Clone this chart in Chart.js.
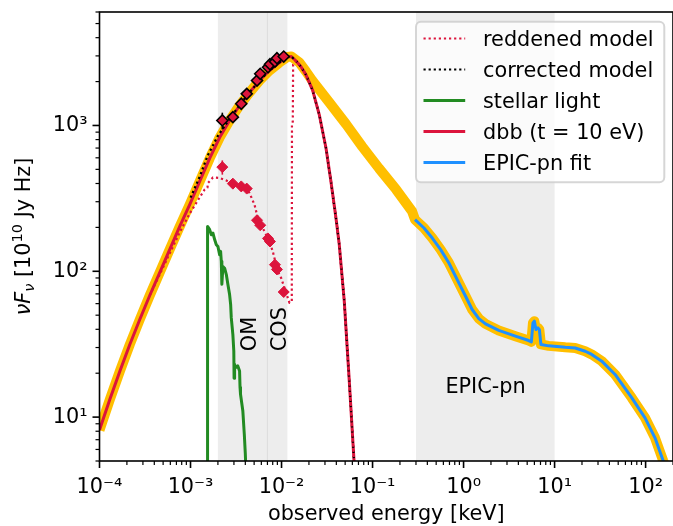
<!doctype html>
<html lang="en">
<head>
  <meta charset="UTF-8">
  <title>SED</title>
  <script src="https://cdn.jsdelivr.net/npm/chart.js@4.4.1/dist/chart.umd.min.js"></script>
  <style>
    body { margin: 0; background: #fff; }
    canvas { display: block; }
  </style>
</head>
<body>
  <canvas id="canvas" width="673" height="526"></canvas>
  <script>
    // energies in keV, fluxes in 1e10 Jy Hz
    var dbbE = [1.0e-4, 1.303e-4, 1.677e-4, 2.158e-4, 2.777e-4, 3.573e-4, 4.599e-4, 5.918e-4, 7.615e-4, 9.799e-4,
                1.261e-3, 1.623e-3, 2.089e-3, 2.688e-3, 3.459e-3, 4.451e-3, 5.728e-3, 7.370e-3, 9.485e-3, 1.161e-2,
                1.282e-2, 1.445e-2, 1.631e-2, 1.858e-2, 2.198e-2, 2.600e-2, 3.079e-2, 3.490e-2, 3.963e-2, 4.306e-2,
                4.889e-2, 5.550e-2, 6.280e-2, 6.780e-2];
    var dbbF = [8.15, 13.3, 20.7, 31.6, 46.9, 68.5, 98.4, 141.5, 203, 287,
                413, 594, 827, 1082, 1370, 1682, 2032, 2381, 2702, 2951,
                2972, 2767, 2535, 2223, 1740, 1183, 700, 413, 232, 153,
                62.4, 17.7, 4.84, 2.27];

    var corrModelE = [1.0e-3, 1.261e-3, 1.539e-3, 2.0e-3, 2.688e-3, 3.459e-3, 4.451e-3, 5.728e-3, 7.370e-3, 9.485e-3,
                      1.161e-2, 1.282e-2, 1.445e-2, 1.631e-2, 1.858e-2, 2.198e-2, 2.600e-2, 3.079e-2, 3.490e-2, 3.963e-2,
                      4.306e-2, 4.889e-2, 5.550e-2, 6.280e-2, 6.780e-2];
    var corrModelF = [320, 445, 620, 850, 1110, 1380, 1682, 2032, 2381, 2702,
                      2951, 2972, 2767, 2535, 2223, 1740, 1183, 700, 413, 232,
                      153, 62.4, 17.7, 4.84, 2.27];

    var redModelE = [3.573e-4, 4.599e-4, 5.918e-4, 7.615e-4, 9.799e-4, 1.261e-3, 1.430e-3, 1.535e-3, 1.556e-3, 1.763e-3,
                     2.089e-3, 2.470e-3, 3.050e-3, 3.930e-3, 4.450e-3, 5.050e-3, 5.490e-3, 6.220e-3, 7.370e-3, 8.010e-3,
                     9.090e-3, 9.900e-3, 1.077e-2, 1.222e-2, 1.296e-2, 1.302e-2, 1.330e-2, 1.340e-2, 1.445e-2, 1.631e-2,
                     1.858e-2, 2.198e-2, 2.600e-2, 3.079e-2, 3.490e-2, 3.963e-2, 4.306e-2, 4.889e-2, 5.550e-2, 6.280e-2, 6.780e-2];
    var redModelF = [68.5, 95.3, 133, 185, 249, 321, 364, 375, 403, 440,
                     436, 420, 393, 373, 344, 286, 232, 198, 160, 137,
                     100, 90, 76.9, 60.7, 62.4, 1033, 1065, 2618, 2767, 2535,
                     2223, 1740, 1183, 700, 413, 232, 153, 62.4, 17.7, 4.84, 2.27];

    var starE = [1.539e-3, 1.539e-3, 1.623e-3, 1.693e-3, 1.764e-3, 1.841e-3, 1.921e-3, 2.000e-3, 2.088e-3, 2.141e-3,
                 2.179e-3, 2.210e-3, 2.270e-3, 2.370e-3, 2.474e-3, 2.575e-3, 2.688e-3, 2.760e-3, 2.805e-3, 2.920e-3,
                 2.990e-3, 3.010e-3, 3.050e-3, 3.126e-3, 3.300e-3, 3.459e-3, 3.500e-3, 3.540e-3, 3.758e-3, 3.900e-3,
                 4.000e-3, 4.120e-3];
    var starF = [1, 203, 193, 178, 183, 165, 152, 148, 130, 137,
                 117, 81.5, 108, 105, 94.9, 81.1, 69.2, 59.2, 47.9, 36.8,
                 28.3, 18.5, 23, 21.8, 22.5, 20.7, 16, 14.4, 11.0, 7.6,
                 5.6, 3.5];

    var fitE = [0.2928, 0.3674, 0.4530, 0.5600, 0.6902, 0.851, 1.052, 1.242, 1.471, 1.742,
                2.435, 3.711, 5.190, 5.557, 5.785, 5.993, 6.241, 6.563, 6.799, 7.078,
                8.60, 13.1, 16.85, 21.7, 25.6, 33.0, 46.2, 70.3, 98.5, 126.8, 156.3, 200];
    var fitF = [226, 198, 169, 140.8, 114, 87.7, 67.4, 54.7, 47.4, 43.6,
                39.3, 35.9, 33.5, 32.8, 44.3, 45.5, 39.9, 40.9, 39.9, 31.5,
                30.8, 30.1, 29.8, 28.3, 26.9, 24.2, 19.6, 13.6, 9.89, 7.21, 5.0, 3.6];

    // total model between the dbb peak and the EPIC-pn range
    var totTailE = [1.570e-2, 1.858e-2, 2.178e-2, 3.346e-2, 5.137e-2, 7.69e-2, 0.1181, 0.1814, 0.2715];
    var totTailF = [2702, 2344, 2032, 1439, 1017, 718, 507, 364, 258];

    // OM / COS photometry
    var uvE = [2.236e-3, 2.920e-3, 3.610e-3, 4.146e-3, 5.377e-3, 5.829e-3, 7.096e-3, 7.464e-3, 8.467e-3, 8.903e-3, 1.057e-2];
    var uvCorrF = [1082, 1140, 1409, 1648, 2033, 2261, 2508, 2630, 2743, 2891, 2970];
    var uvCorrErr = [142, 30, 30, 35, 40, 40, 45, 45, 45, 50, 50];
    var uvRedF = [518, 399, 382, 369, 224, 207, 168, 160, 111, 103, 72.1];
    var uvRedErr = [58, 10, 10, 10, 6, 6, 5, 5, 3, 3, 2];

    var omBand = [2.0e-3, 7.1e-3];
    var cosBand = [6.9e-3, 1.16e-2];
    var epicBand = [0.3, 10];

    var xLim = [1e-4, 200];
    var yLim = [5, 6000];

    const CRIMSON = '#DC143C', GREEN = '#228B22', BLUE = '#1E90FF', GOLD = '#FFBF00';
    const FONT = '"DejaVu Sans", sans-serif';
    const FS = 20.8;
    const DOTS = [2.2, 2.9];

    const SUP = {'-': '\u207B', '0': '\u2070', '1': '\u00B9', '2': '\u00B2', '3': '\u00B3', '4': '\u2074',
                 '5': '\u2075', '6': '\u2076', '7': '\u2077', '8': '\u2078', '9': '\u2079'};
    const decadeLabel = v => {
      const l = Math.log10(v), r = Math.round(l);
      if (Math.abs(l - r) > 1e-6) return '';
      return '10' + String(r).split('').map(c => SUP[c]).join('');
    };

    const pts = (xs, ys) => xs.map((x, i) => ({x: x, y: ys[i]}));

    const curve = (label, xs, ys, color, width, dash, order) => ({
      label: label, data: pts(xs, ys), borderColor: color, backgroundColor: color,
      borderWidth: width, borderDash: dash, borderJoinStyle: 'round',
      pointRadius: 0, pointHoverRadius: 0, tension: 0, clip: 0, order: order
    });

    const totE = dbbE.slice(0, 21).concat(totTailE, fitE);
    const totF = dbbF.slice(0, 21).concat(totTailF, fitF);

    const datasets = [
      curve('total', totE, totF, GOLD, 10, [], 10),
      Object.assign(curve('dbb (t = 10 eV)', dbbE, dbbF, CRIMSON, 3, [], 9), {legendRow: 3}),
      Object.assign(curve('stellar light', starE, starF, GREEN, 3, [], 8), {legendRow: 2}),
      Object.assign(curve('EPIC-pn fit', fitE, fitF, BLUE, 3, [], 7), {legendRow: 4}),
      Object.assign(curve('corrected model', corrModelE, corrModelF, '#000', 2.2, DOTS, 6), {legendRow: 1}),
      Object.assign(curve('reddened model', redModelE, redModelF, CRIMSON, 2.2, DOTS, 5), {legendRow: 0}),
      {
        label: 'reddened data', data: pts(uvE, uvRedF), showLine: false, pointStyle: 'rectRot',
        pointRadius: 5.5, backgroundColor: CRIMSON, borderColor: CRIMSON, borderWidth: 1,
        clip: false, order: 2, errY: uvRedErr, errColor: CRIMSON
      },
      {
        label: 'corrected data', data: pts(uvE, uvCorrF), showLine: false, pointStyle: 'rectRot',
        pointRadius: 5.5, backgroundColor: CRIMSON, borderColor: '#000', borderWidth: 1.6,
        clip: false, order: 1, errY: uvCorrErr, errColor: '#000'
      }
    ];

    function logTicks(scale) {
      const out = [];
      for (let d = Math.floor(Math.log10(scale.min)); d <= Math.ceil(Math.log10(scale.max)); d++) {
        for (let k = 1; k <= 9; k++) {
          const v = k * Math.pow(10, d);
          if (v >= scale.min * 0.999 && v <= scale.max * 1.001) out.push({v: v, major: k === 1});
        }
      }
      return out;
    }

    function richText(ctx, parts, cx, cy, rot) {
      ctx.save();
      ctx.translate(cx, cy);
      ctx.rotate(rot);
      ctx.textAlign = 'left';
      ctx.textBaseline = 'alphabetic';
      const fontFor = p => (p.i ? 'oblique ' : '') + (FS * (p.s || 1)) + 'px ' + FONT;
      let w = 0;
      parts.forEach(p => { ctx.font = fontFor(p); w += ctx.measureText(p.t).width; });
      let xx = -w / 2;
      parts.forEach(p => {
        ctx.font = fontFor(p);
        ctx.fillText(p.t, xx, p.dy || 0);
        xx += ctx.measureText(p.t).width;
      });
      ctx.restore();
    }

    const decor = {
      id: 'decor',
      beforeDatasetsDraw(chart) {
        const {ctx, chartArea: a, scales: {x}} = chart;
        ctx.save();
        ctx.fillStyle = 'rgba(128,128,128,0.14)';
        [omBand, cosBand, epicBand].forEach(b => {
          const x0 = x.getPixelForValue(b[0]), x1 = x.getPixelForValue(b[1]);
          ctx.fillRect(x0, a.top, x1 - x0, a.bottom - a.top);
        });
        ctx.restore();
      },
      beforeDatasetDraw(chart, args) {
        const ds = chart.data.datasets[args.index];
        if (!ds.errY) return;
        const {ctx, scales: {x, y}} = chart;
        ctx.save();
        ctx.strokeStyle = ds.errColor;
        ctx.lineWidth = 1.6;
        ds.data.forEach((p, i) => {
          const px = x.getPixelForValue(p.x);
          ctx.beginPath();
          ctx.moveTo(px, y.getPixelForValue(p.y - ds.errY[i]));
          ctx.lineTo(px, y.getPixelForValue(p.y + ds.errY[i]));
          ctx.stroke();
        });
        ctx.restore();
      },
      afterDatasetsDraw(chart) {
        const {ctx, scales: {x, y}} = chart;
        ctx.save();
        ctx.fillStyle = '#000';
        ctx.font = FS + 'px ' + FONT;
        ctx.textAlign = 'left';
        ctx.textBaseline = 'alphabetic';
        [['OM', 5.24e-3], ['COS', 1.13e-2]].forEach(t => {
          ctx.save();
          ctx.translate(x.getPixelForValue(t[1]), y.getPixelForValue(28.3));
          ctx.rotate(-Math.PI / 2);
          ctx.fillText(t[0], 0, 0);
          ctx.restore();
        });
        ctx.fillText('EPIC-pn', x.getPixelForValue(0.632), y.getPixelForValue(14.7));
        ctx.restore();
      },
      afterDraw(chart) {
        const {ctx, chartArea: a, scales: {x, y}} = chart;
        ctx.save();
        // ticks
        ctx.strokeStyle = '#000';
        logTicks(x).forEach(t => {
          const p = x.getPixelForValue(t.v);
          ctx.lineWidth = t.major ? 1.6 : 1.2;
          ctx.beginPath(); ctx.moveTo(p, a.bottom); ctx.lineTo(p, a.bottom + (t.major ? 7 : 4)); ctx.stroke();
        });
        logTicks(y).forEach(t => {
          const p = y.getPixelForValue(t.v);
          ctx.lineWidth = t.major ? 1.6 : 1.2;
          ctx.beginPath(); ctx.moveTo(a.left, p); ctx.lineTo(a.left - (t.major ? 7 : 4), p); ctx.stroke();
        });
        // frame
        ctx.lineWidth = 1.6;
        ctx.strokeRect(a.left, a.top, a.right - a.left, a.bottom - a.top);

        // axis titles
        ctx.fillStyle = '#000';
        ctx.font = FS + 'px ' + FONT;
        ctx.textAlign = 'center';
        ctx.textBaseline = 'alphabetic';
        ctx.fillText('observed energy [keV]', (a.left + a.right) / 2, 520);
        richText(ctx, [
          {t: '\u03BD', i: true}, {t: 'F', i: true}, {t: '\u03BD', i: true, s: 0.7, dy: 4},
          {t: ' [10'}, {t: '10', s: 0.7, dy: -8}, {t: ' Jy Hz]'}
        ], 30, (a.top + a.bottom) / 2, -Math.PI / 2);

        // legend
        const bx0 = 416, by0 = 21.7, bx1 = 664.3, by1 = 182.3;
        ctx.beginPath();
        if (ctx.roundRect) ctx.roundRect(bx0, by0, bx1 - bx0, by1 - by0, 5);
        else ctx.rect(bx0, by0, bx1 - bx0, by1 - by0);
        ctx.fillStyle = 'rgba(255,255,255,0.8)';
        ctx.fill();
        ctx.lineWidth = 2;
        ctx.strokeStyle = 'rgba(204,204,204,0.8)';
        ctx.stroke();
        const rows = chart.data.datasets.filter(d => d.legendRow !== undefined)
          .sort((p, q) => p.legendRow - q.legendRow);
        rows.forEach((d, i) => {
          const ly = 38.5 + 31 * i;
          ctx.beginPath();
          ctx.setLineDash(d.borderDash);
          ctx.strokeStyle = d.borderColor;
          ctx.lineWidth = d.borderWidth;
          ctx.moveTo(423.5, ly); ctx.lineTo(465.2, ly);
          ctx.stroke();
          ctx.setLineDash([]);
          ctx.fillStyle = '#000';
          ctx.textAlign = 'left';
          ctx.fillText(d.label, 483, ly + 7.5);
        });
        ctx.restore();
      }
    };

    new Chart(document.getElementById('canvas'), {
      type: 'line',
      data: {datasets: datasets},
      plugins: [decor],
      options: {
        responsive: false,
        animation: false,
        devicePixelRatio: 1,
        events: [],
        layout: {autoPadding: false, padding: {top: 12, right: -2, left: 0, bottom: 0}},
        plugins: {legend: {display: false}, tooltip: {enabled: false}},
        scales: {
          x: {
            type: 'logarithmic', min: xLim[0], max: xLim[1],
            afterFit: s => { s.height = 65; s.paddingLeft = 0; s.paddingRight = 0; },
            grid: {display: false, drawTicks: false}, border: {display: false},
            ticks: {autoSkip: false, maxRotation: 0, minRotation: 0, padding: 14, color: '#000',
                    font: {family: FONT, size: FS}, callback: v => decadeLabel(v)}
          },
          y: {
            type: 'logarithmic', min: yLim[0], max: yLim[1],
            afterFit: s => { s.width = 99.5; s.paddingTop = 0; s.paddingBottom = 0; },
            grid: {display: false, drawTicks: false}, border: {display: false},
            ticks: {autoSkip: false, padding: 12, color: '#000',
                    font: {family: FONT, size: FS}, callback: v => decadeLabel(v)}
          }
        }
      }
    });
  </script>
</body>
</html>
